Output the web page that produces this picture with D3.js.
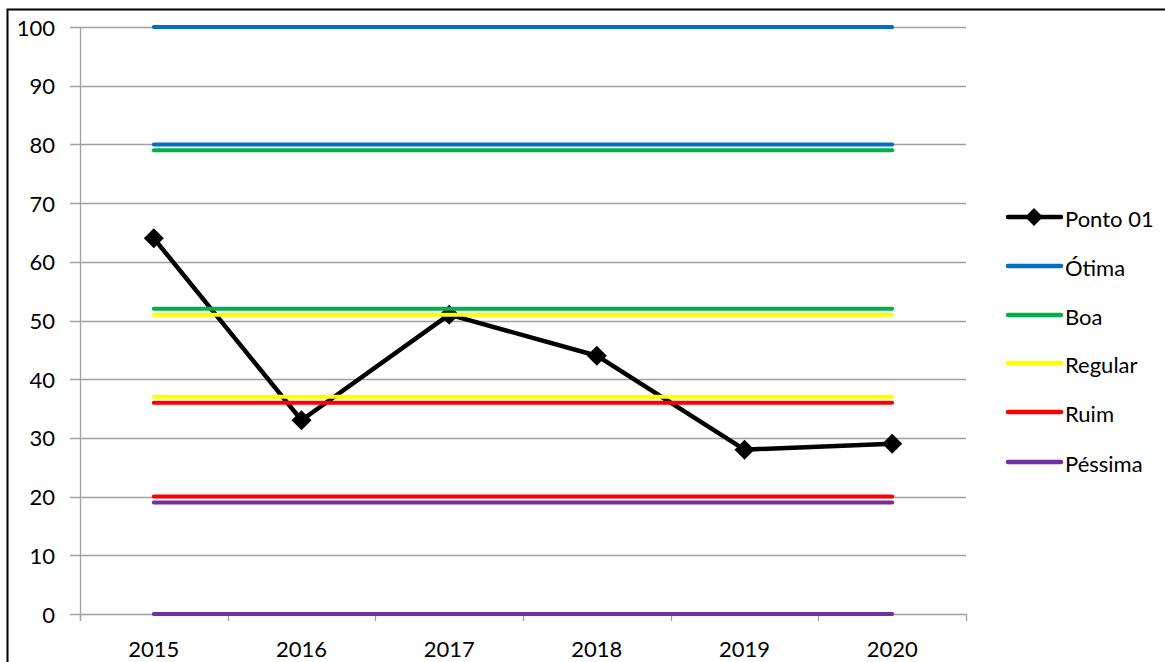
<!DOCTYPE html>
<html>
<head>
<meta charset="utf-8">
<script src="https://cdn.jsdelivr.net/npm/d3@7"></script>
<style>
  html, body { margin: 0; padding: 0; background: #fff; }
  svg { display: block; }
  text { font-family: Lato, "Open Sans", sans-serif; fill: #000; }
</style>
</head>
<body>
<svg id="chart" width="1165" height="662"></svg>
<script>
// ---- data ----
const years = ["2015", "2016", "2017", "2018", "2019", "2020"];
const ponto01 = [64, 33, 51, 44, 28, 29];
const otimaTop = [100, 100, 100, 100, 100, 100];
const otimaBottom = [80, 80, 80, 80, 80, 80];
const boaTop = [79, 79, 79, 79, 79, 79];
const boaBottom = [52, 52, 52, 52, 52, 52];
const regularTop = [51, 51, 51, 51, 51, 51];
const regularBottom = [37, 37, 37, 37, 37, 37];
const ruimTop = [36, 36, 36, 36, 36, 36];
const ruimBottom = [20, 20, 20, 20, 20, 20];
const pessimaTop = [19, 19, 19, 19, 19, 19];
const pessimaBottom = [0, 0, 0, 0, 0, 0];
const yTicks = [0, 10, 20, 30, 40, 50, 60, 70, 80, 90, 100];
const legendNames = ["Ponto 01", "Ótima", "Boa", "Regular", "Ruim", "Péssima"];
const classColors = ["#000000", "#0070C0", "#00B050", "#FFFF00", "#FF0000", "#7030A0"];

const bands = [
  { values: otimaTop, color: classColors[1] },
  { values: otimaBottom, color: classColors[1] },
  { values: boaTop, color: classColors[2] },
  { values: boaBottom, color: classColors[2] },
  { values: regularTop, color: classColors[3] },
  { values: regularBottom, color: classColors[3] },
  { values: ruimTop, color: classColors[4] },
  { values: ruimBottom, color: classColors[4] },
  { values: pessimaTop, color: classColors[5] },
  { values: pessimaBottom, color: classColors[5] }
];

// ---- layout ----
const svg = d3.select("#chart");
const plot = { left: 80, right: 966, top: 27, bottom: 614 };
const fontSize = 22;

const x = d3.scaleBand().domain(years).range([plot.left, plot.right]).padding(0);
const y = d3.scaleLinear().domain([0, 100]).range([plot.bottom, plot.top]);
const cx = d => x(d) + x.bandwidth() / 2;

// outer chart border
svg.append("rect")
  .attr("x", 7.5).attr("y", 9.5)
  .attr("width", 1200).attr("height", 700)
  .attr("fill", "none").attr("stroke", "#000").attr("stroke-width", 2);

// gridlines
const gridColor = "#a0a0a0";
svg.append("g")
  .selectAll("line").data(yTicks).join("line")
  .attr("x1", plot.left - 10).attr("x2", plot.right)
  .attr("y1", d => Math.round(y(d)) + 0.5).attr("y2", d => Math.round(y(d)) + 0.5)
  .attr("stroke", gridColor).attr("stroke-width", 1.3);

// y axis line
svg.append("line")
  .attr("x1", plot.left + 0.5).attr("x2", plot.left + 0.5)
  .attr("y1", plot.top).attr("y2", plot.bottom + 7)
  .attr("stroke", gridColor).attr("stroke-width", 1.3);

// x axis ticks at band boundaries
const boundaries = years.map(d => x(d)).concat([plot.right]);
svg.append("g")
  .selectAll("line").data(boundaries).join("line")
  .attr("x1", d => Math.round(d) + 0.5).attr("x2", d => Math.round(d) + 0.5)
  .attr("y1", plot.bottom).attr("y2", plot.bottom + 7)
  .attr("stroke", gridColor).attr("stroke-width", 1.3);

// y labels
svg.append("g")
  .selectAll("text").data(yTicks).join("text")
  .attr("x", 55).attr("y", d => y(d))
  .attr("text-anchor", "end").attr("dominant-baseline", "central")
  .attr("font-size", fontSize)
  .text(d => d);

// x labels
svg.append("g")
  .selectAll("text").data(years).join("text")
  .attr("x", d => cx(d)).attr("y", 648)
  .attr("text-anchor", "middle").attr("dominant-baseline", "central")
  .attr("font-size", fontSize)
  .text(d => d);

const line = d3.line().x((d, i) => cx(years[i])).y(d => y(d));

// Ponto 01 (drawn first, under the class lines)
svg.append("path")
  .attr("d", line(ponto01))
  .attr("fill", "none").attr("stroke", "#000").attr("stroke-width", 4.5)
  .attr("stroke-linejoin", "round");

const diamond = r => `M0,${-r}L${r},0L0,${r}L${-r},0Z`;
svg.append("g")
  .selectAll("path").data(ponto01).join("path")
  .attr("transform", (d, i) => `translate(${cx(years[i])},${y(d)})`)
  .attr("d", diamond(10))
  .attr("fill", "#000");

// class lines
svg.append("g")
  .selectAll("path").data(bands).join("path")
  .attr("d", d => line(d.values))
  .attr("fill", "none")
  .attr("stroke", d => d.color)
  .attr("stroke-width", 4)
  .attr("stroke-linecap", "round");

// legend
const legendY = [217, 266, 315, 363, 412, 462];
const lg = svg.append("g");
legendNames.forEach((name, i) => {
  const g = lg.append("g").attr("transform", `translate(0,${legendY[i]})`);
  g.append("line")
    .attr("x1", 1008).attr("x2", 1061).attr("y1", 0).attr("y2", 0)
    .attr("stroke", classColors[i]).attr("stroke-width", 4.5)
    .attr("stroke-linecap", "round");
  if (i === 0) {
    g.append("path").attr("transform", "translate(1034,0)")
      .attr("d", diamond(9)).attr("fill", "#000");
  }
  g.append("text")
    .attr("x", 1065).attr("y", 1)
    .attr("dominant-baseline", "central")
    .attr("font-size", fontSize)
    .text(name);
});
</script>
</body>
</html>
